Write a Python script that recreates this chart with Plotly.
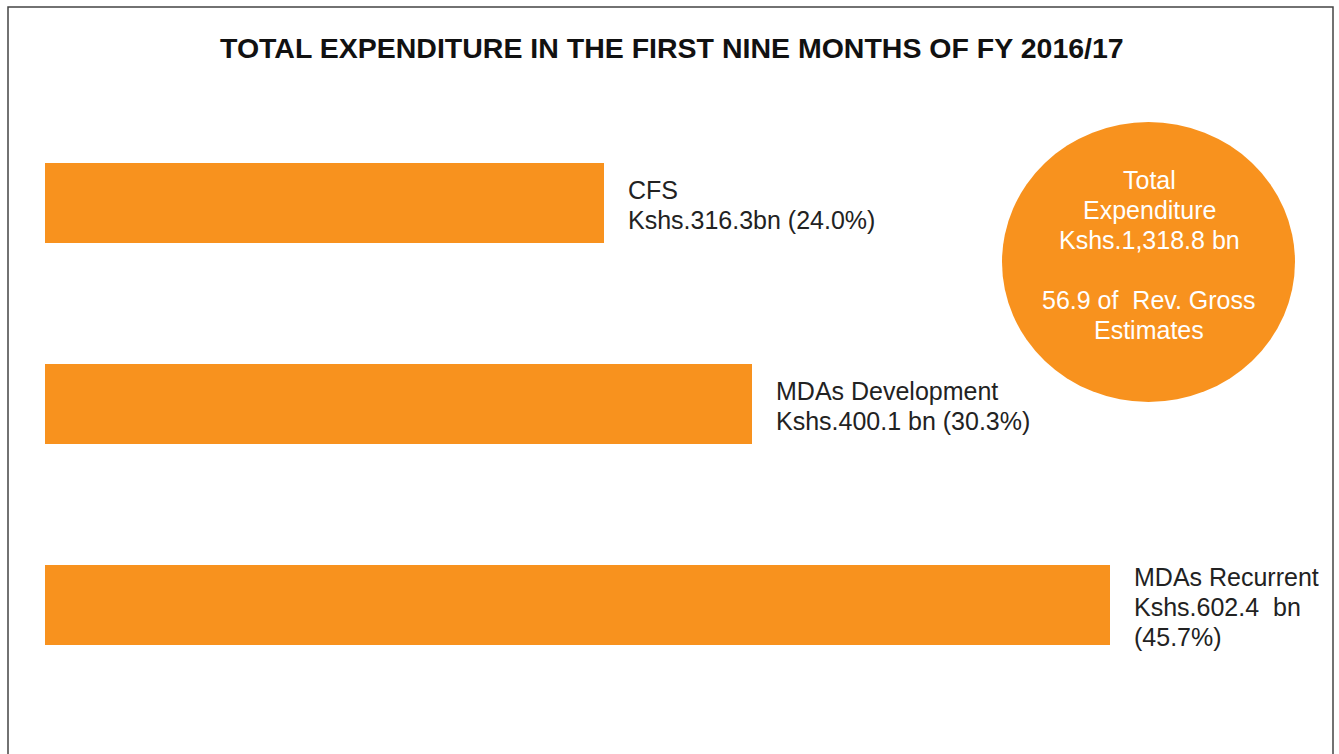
import plotly.graph_objects as go

categories = ["CFS", "MDAs Development", "MDAs Recurrent"]
values = [316.3, 400.1, 602.4]
label_lines = [
    ["CFS", "Kshs.316.3bn (24.0%)"],
    ["MDAs Development", "Kshs.400.1 bn (30.3%)"],
    ["MDAs Recurrent", "Kshs.602.4  bn", "(45.7%)"],
]
title_text = "TOTAL EXPENDITURE IN THE FIRST NINE MONTHS OF FY 2016/17"
circle_lines = ["Total", "Expenditure", "Kshs.1,318.8 bn", "", "56.9 of  Rev. Gross", "Estimates"]

ORANGE = "#F8921E"
W, H = 1339, 754
FONT = "Liberation Sans, Arial, sans-serif"
LINE = 30

ypos = list(range(len(categories)))

fig = go.Figure()
fig.add_trace(go.Bar(
    x=values, y=ypos, orientation="h", width=0.4,
    marker=dict(color=ORANGE, line=dict(width=0)),
    hoverinfo="skip", showlegend=False,
))

for v, yi, lines in zip(values, ypos, label_lines):
    n = len(lines)
    for i, t in enumerate(lines):
        fig.add_annotation(
            x=v, y=yi, xref="x", yref="y", text=t, showarrow=False,
            xanchor="left", yanchor="middle", align="left", xshift=22,
            yshift=-(i - (n - 1) / 2) * LINE - 2,
            font=dict(family=FONT, size=25, color="#222222"),
        )

def px_x(p):
    return p / W

def px_y(p):
    return 1 - p / H

# title
fig.add_annotation(
    x=px_x(672), y=px_y(48), xref="paper", yref="paper", text="<b>" + title_text + "</b>",
    showarrow=False, xanchor="center", yanchor="middle",
    font=dict(family=FONT, size=28.5, color="#111111"),
)

# circle
fig.add_shape(type="circle", xref="paper", yref="paper",
              x0=px_x(1002), x1=px_x(1295), y0=px_y(402), y1=px_y(122),
              fillcolor=ORANGE, line=dict(width=0), layer="below")
n = len(circle_lines)
for i, t in enumerate(circle_lines):
    if not t:
        continue
    fig.add_annotation(
        x=px_x(1149), y=px_y(255 + (i - (n - 1) / 2) * LINE), xref="paper", yref="paper", text=t,
        showarrow=False, xanchor="center", yanchor="middle", align="center",
        font=dict(family=FONT, size=25, color="#FFFFFF"),
    )

# border
fig.add_shape(type="rect", xref="paper", yref="paper",
              x0=px_x(8), x1=px_x(1333), y0=px_y(770), y1=px_y(7),
              line=dict(color="#444444", width=1.5), fillcolor="rgba(0,0,0,0)")

scale = 1065 / 602.4  # px per unit
fig.update_layout(
    width=W, height=H,
    margin=dict(l=0, r=0, t=0, b=0),
    paper_bgcolor="white", plot_bgcolor="white",
    xaxis=dict(range=[-45 / scale, (W - 45) / scale], visible=False, fixedrange=True),
    yaxis=dict(range=[-1.01 + 754 / 201, -1.01], visible=False, fixedrange=True),
    bargap=0,
)

fig.write_html("out.html", config={"displayModeBar": False},
               post_script="document.body.style.margin='0';document.body.style.overflow='hidden';")
